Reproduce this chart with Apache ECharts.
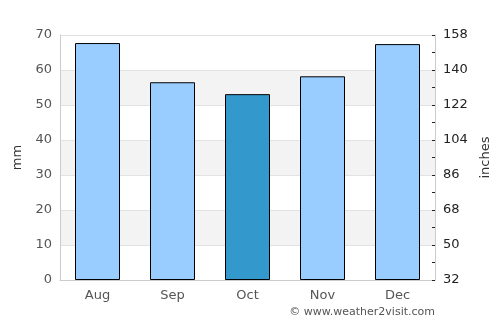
<!DOCTYPE html>
<html>
<head>
<meta charset="utf-8">
<script src="https://cdn.jsdelivr.net/npm/echarts@6/dist/echarts.min.js"></script>
<style>
html,body{margin:0;padding:0;background:#fff;}
#chart{width:500px;height:325px;}
</style>
</head>
<body>
<div id="chart"></div>
<script>
var months = ['Aug', 'Sep', 'Oct', 'Nov', 'Dec'];
var rainMm = [67.7, 56.5, 53.1, 58.2, 67.4];
var highlight = 'Oct';
var leftTicks = [0, 10, 20, 30, 40, 50, 60, 70];
var rightTicks = [32, 50, 68, 86, 104, 122, 140, 158];

var chart = echarts.init(document.getElementById('chart'));
chart.setOption({
    animation: false,
    textStyle: { fontFamily: 'DejaVu Sans' },
    grid: { left: 60, right: 65, top: 35, bottom: 45 },
    graphic: [{
        type: 'text',
        right: 65,
        top: 307,
        style: { text: '© www.weather2visit.com', fill: '#555', font: '11px DejaVu Sans' }
    }],
    xAxis: {
        type: 'category',
        data: months,
        axisLine: { lineStyle: { color: '#ccc' } },
        axisTick: { show: false },
        axisLabel: { color: '#555', fontSize: 13, margin: 9 }
    },
    yAxis: [{
        type: 'value',
        name: 'mm',
        nameLocation: 'middle',
        nameGap: 34,
        nameRotate: 90,
        nameTextStyle: { color: '#333', fontSize: 13 },
        min: leftTicks[0],
        max: leftTicks[leftTicks.length - 1],
        interval: 10,
        axisLine: { show: true, lineStyle: { color: '#ccc' } },
        axisTick: { show: false },
        axisLabel: { color: '#555', fontSize: 13, margin: 8 },
        splitLine: { lineStyle: { color: '#e2e2e2' } },
        splitArea: { show: true, areaStyle: { color: ['#ffffff', '#f3f3f3'] } }
    }, {
        type: 'value',
        name: 'inches',
        nameLocation: 'middle',
        nameGap: 37,
        nameRotate: 90,
        nameTextStyle: { color: '#333', fontSize: 13 },
        position: 'right',
        min: rightTicks[0],
        max: rightTicks[rightTicks.length - 1],
        interval: 18,
        axisLine: { show: true, lineStyle: { color: '#ccc' } },
        axisTick: { show: true, inside: true, length: 3, lineStyle: { color: '#222' } },
        minorTick: { show: true, splitNumber: 2, length: 3, lineStyle: { color: '#222' } },
        axisLabel: { color: '#222', fontSize: 13, margin: 8 },
        splitLine: { show: false }
    }],
    series: [{
        type: 'bar',
        barWidth: '60%',
        data: rainMm.map(function (v, i) {
            return {
                value: v,
                itemStyle: { color: months[i] === highlight ? '#3399cc' : '#99ccff' }
            };
        }),
        itemStyle: { borderColor: '#000', borderWidth: 1 }
    }]
});
</script>
</body>
</html>
